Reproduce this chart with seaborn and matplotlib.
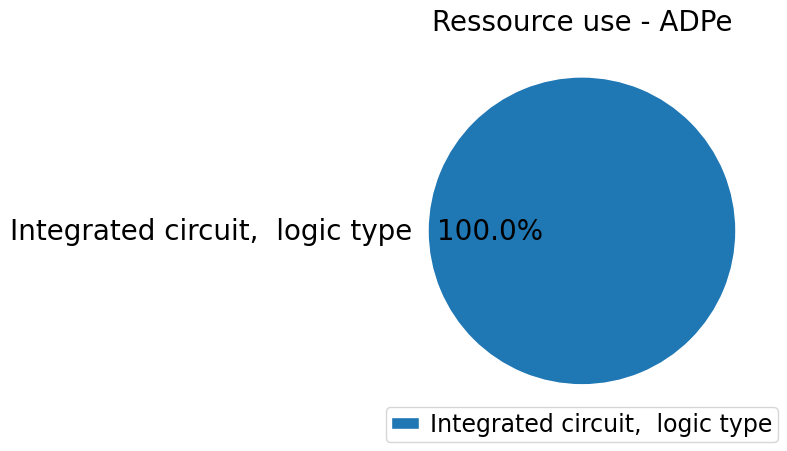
import matplotlib
matplotlib.use('Agg')
import matplotlib.pyplot as plt
import seaborn as sns

# ── Dados ────────────────────────────────────────────────────────────────────
categorias = ['Integrated circuit,  logic type']
valores    = [1.0]
titulo     = 'Ressource use - ADPe'

sns.set_style('white')
plt.rcParams['text.color'] = 'black'
cores = sns.color_palette('tab10', len(categorias))

fig = plt.figure(figsize=(7.87, 4.52), dpi=100)
ax = fig.add_axes([0.495, 0.061, 0.489, 0.852])

wedges, textos, autotextos = ax.pie(valores, labels=categorias, colors=cores,
                                    autopct='%1.1f%%',
                                    textprops={'fontsize': 20, 'color': 'black'})
ax.set_title(titulo, fontsize=20, color='black')
ax.set_xlim(-1.25, 1.25)
ax.set_ylim(-1.25, 1.25)

# espaçamentos da legenda na escala de fonte 10, texto em 17
k = 10 / 17
fig.legend(wedges, categorias, loc='lower right', fontsize=17,
           handlelength=2.0 * k, handleheight=0.7 * k,
           handletextpad=0.8 * k, borderpad=0.4 * k,
           borderaxespad=0, bbox_to_anchor=(0.9886, 0.0199))

plt.savefig('out.png', dpi=100)
plt.close()
